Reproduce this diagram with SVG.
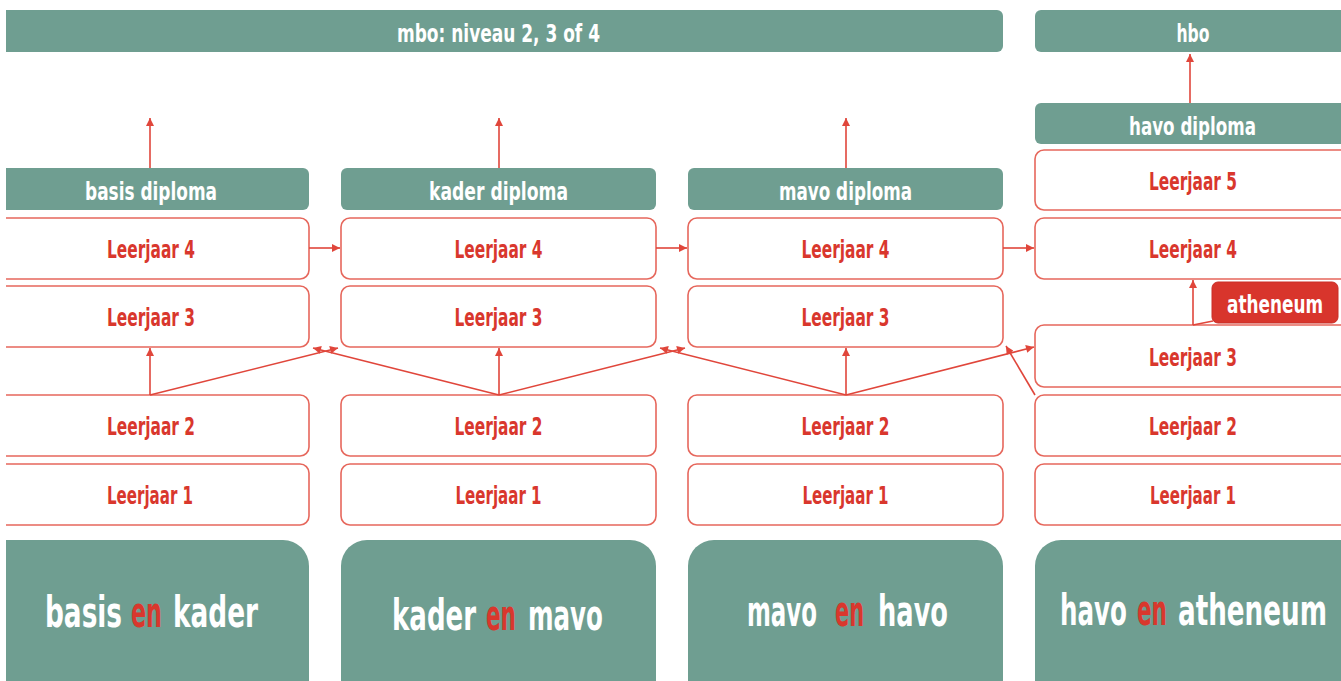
<svg xmlns="http://www.w3.org/2000/svg" width="1341" height="681" viewBox="0 0 1341 681">
<style>
text{font-family:"DejaVu Sans Condensed","Liberation Sans Narrow","DejaVu Sans",sans-serif;font-weight:bold;font-stretch:condensed;text-anchor:middle}
.bar{fill:#6f9e91}
.big{fill:#6f9e91}
.yr{fill:#ffffff;stroke:#e6675c;stroke-width:1.6}
.wt{fill:#ffffff;font-size:25px}
.rt{fill:#d9372d;font-size:24px}
.bt{fill:#ffffff;font-size:42px;text-anchor:start}
.en{fill:#d9372d;font-size:42px;text-anchor:start}
.tag{fill:#d8352c;stroke:#c92e26;stroke-width:1}
.c{stroke:#e0463b;stroke-width:1.6;fill:none}
</style>
<defs>
<marker id="ah" viewBox="0 0 10 10" refX="10" refY="5" markerWidth="10" markerHeight="8" markerUnits="userSpaceOnUse" orient="auto">
<path d="M0,0 L10,5 L0,10 z" fill="#e0463b"/>
</marker>
<clipPath id="clip"><rect x="6" y="0" width="1335" height="681"/></clipPath>
</defs>
<rect x="0" y="0" width="1341" height="681" fill="#ffffff"/>
<g clip-path="url(#clip)">
<g id="mbo"><rect class="bar" x="-10" y="10" width="1013" height="42" rx="6"/><text class="wt" x="498.5" y="42" font-size="24" textLength="203" lengthAdjust="spacingAndGlyphs">mbo: niveau 2, 3 of 4</text></g>
<g id="hbo"><rect class="bar" x="1035" y="10" width="330" height="42" rx="6"/><text class="wt" x="1193" y="42" textLength="33" lengthAdjust="spacingAndGlyphs">hbo</text></g>

<g id="basis-diploma"><rect class="bar" x="-14" y="168" width="323" height="42" rx="6"/><text class="wt" x="151" y="200" font-size="26" textLength="132" lengthAdjust="spacingAndGlyphs">basis diploma</text></g>
<g id="kader-diploma"><rect class="bar" x="341" y="168" width="315" height="42" rx="6"/><text class="wt" x="498.5" y="200" font-size="26" textLength="139" lengthAdjust="spacingAndGlyphs">kader diploma</text></g>
<g id="mavo-diploma"><rect class="bar" x="688" y="168" width="315" height="42" rx="6"/><text class="wt" x="845.5" y="200" font-size="26" textLength="133" lengthAdjust="spacingAndGlyphs">mavo diploma</text></g>
<g id="havo-diploma"><rect class="bar" x="1035" y="103" width="330" height="41" rx="6"/><text class="wt" x="1192.5" y="135" font-size="26" textLength="127" lengthAdjust="spacingAndGlyphs">havo diploma</text></g>

<g id="basis-l4"><rect class="yr" x="-14" y="218" width="323" height="61" rx="9"/><text class="rt" x="151" y="258" textLength="88" lengthAdjust="spacingAndGlyphs">Leerjaar 4</text></g>
<g id="basis-l3"><rect class="yr" x="-14" y="286" width="323" height="61" rx="9"/><text class="rt" x="151" y="326" textLength="88" lengthAdjust="spacingAndGlyphs">Leerjaar 3</text></g>
<g id="basis-l2"><rect class="yr" x="-14" y="395" width="323" height="61" rx="9"/><text class="rt" x="151" y="435" textLength="88" lengthAdjust="spacingAndGlyphs">Leerjaar 2</text></g>
<g id="basis-l1"><rect class="yr" x="-14" y="464" width="323" height="61" rx="9"/><text class="rt" x="150" y="504" textLength="86" lengthAdjust="spacingAndGlyphs">Leerjaar 1</text></g>

<g id="kader-l4"><rect class="yr" x="341" y="218" width="315" height="61" rx="9"/><text class="rt" x="498.5" y="258" textLength="88" lengthAdjust="spacingAndGlyphs">Leerjaar 4</text></g>
<g id="kader-l3"><rect class="yr" x="341" y="286" width="315" height="61" rx="9"/><text class="rt" x="498.5" y="326" textLength="88" lengthAdjust="spacingAndGlyphs">Leerjaar 3</text></g>
<g id="kader-l2"><rect class="yr" x="341" y="395" width="315" height="61" rx="9"/><text class="rt" x="498.5" y="435" textLength="88" lengthAdjust="spacingAndGlyphs">Leerjaar 2</text></g>
<g id="kader-l1"><rect class="yr" x="341" y="464" width="315" height="61" rx="9"/><text class="rt" x="498.5" y="504" textLength="86" lengthAdjust="spacingAndGlyphs">Leerjaar 1</text></g>

<g id="mavo-l4"><rect class="yr" x="688" y="218" width="315" height="61" rx="9"/><text class="rt" x="845.5" y="258" textLength="88" lengthAdjust="spacingAndGlyphs">Leerjaar 4</text></g>
<g id="mavo-l3"><rect class="yr" x="688" y="286" width="315" height="61" rx="9"/><text class="rt" x="845.5" y="326" textLength="88" lengthAdjust="spacingAndGlyphs">Leerjaar 3</text></g>
<g id="mavo-l2"><rect class="yr" x="688" y="395" width="315" height="61" rx="9"/><text class="rt" x="845.5" y="435" textLength="88" lengthAdjust="spacingAndGlyphs">Leerjaar 2</text></g>
<g id="mavo-l1"><rect class="yr" x="688" y="464" width="315" height="61" rx="9"/><text class="rt" x="845.5" y="504" textLength="86" lengthAdjust="spacingAndGlyphs">Leerjaar 1</text></g>

<g id="havo-l5"><rect class="yr" x="1035" y="150" width="330" height="60" rx="9"/><text class="rt" x="1193" y="190" textLength="88" lengthAdjust="spacingAndGlyphs">Leerjaar 5</text></g>
<g id="havo-l4"><rect class="yr" x="1035" y="218" width="330" height="61" rx="9"/><text class="rt" x="1193" y="258" textLength="88" lengthAdjust="spacingAndGlyphs">Leerjaar 4</text></g>
<g id="havo-l3"><rect class="yr" x="1035" y="325" width="330" height="62" rx="9"/><text class="rt" x="1193" y="366" textLength="88" lengthAdjust="spacingAndGlyphs">Leerjaar 3</text></g>
<g id="havo-l2"><rect class="yr" x="1035" y="395" width="330" height="61" rx="9"/><text class="rt" x="1193" y="435" textLength="88" lengthAdjust="spacingAndGlyphs">Leerjaar 2</text></g>
<g id="havo-l1"><rect class="yr" x="1035" y="464" width="330" height="61" rx="9"/><text class="rt" x="1193" y="504" textLength="86" lengthAdjust="spacingAndGlyphs">Leerjaar 1</text></g>

<g id="atheneum"><rect class="tag" x="1212" y="282" width="126" height="41" rx="6"/><text class="wt" transform="translate(1275,313) scale(0.81,1)" x="0" y="0" font-size="23" textLength="118.5" lengthAdjust="spacingAndGlyphs">atheneum</text></g>

<g id="basis-en-kader"><rect class="big" x="-30" y="540" width="339" height="180" rx="26"/>
<text class="bt" transform="translate(45,627) scale(0.697,1)" textLength="110.5" lengthAdjust="spacingAndGlyphs">basis</text>
<text class="en" transform="translate(131,627) scale(0.59,1)" textLength="52.5" lengthAdjust="spacingAndGlyphs">en</text>
<text class="bt" transform="translate(173,627) scale(0.697,1)" textLength="122" lengthAdjust="spacingAndGlyphs">kader</text></g>
<g id="kader-en-mavo"><rect class="big" x="341" y="540" width="315" height="180" rx="26"/>
<text class="bt" transform="translate(392,630) scale(0.689,1)" textLength="122" lengthAdjust="spacingAndGlyphs">kader</text>
<text class="en" transform="translate(486,630) scale(0.571,1)" textLength="52.5" lengthAdjust="spacingAndGlyphs">en</text>
<text class="bt" transform="translate(528,630) scale(0.649,1)" textLength="115.5" lengthAdjust="spacingAndGlyphs">mavo</text></g>
<g id="mavo-en-havo"><rect class="big" x="688" y="540" width="315" height="180" rx="26"/>
<text class="bt" transform="translate(747,626) scale(0.606,1)" textLength="115.5" lengthAdjust="spacingAndGlyphs">mavo</text>
<text class="en" transform="translate(835,626) scale(0.552,1)" textLength="52.5" lengthAdjust="spacingAndGlyphs">en</text>
<text class="bt" transform="translate(878,626) scale(0.68,1)" textLength="103" lengthAdjust="spacingAndGlyphs">havo</text></g>
<g id="havo-en-atheneum"><rect class="big" x="1035" y="540" width="340" height="180" rx="26"/>
<text class="bt" transform="translate(1060,625) scale(0.65,1)" textLength="103" lengthAdjust="spacingAndGlyphs">havo</text>
<text class="en" transform="translate(1137,625) scale(0.571,1)" textLength="52.5" lengthAdjust="spacingAndGlyphs">en</text>
<text class="bt" transform="translate(1178,625) scale(0.693,1)" textLength="215" lengthAdjust="spacingAndGlyphs">atheneum</text></g>

<g id="connectors">
<line class="c" x1="150" y1="168" x2="150" y2="118" marker-end="url(#ah)"/>
<line class="c" x1="499" y1="168" x2="499" y2="118" marker-end="url(#ah)"/>
<line class="c" x1="846" y1="168" x2="846" y2="118" marker-end="url(#ah)"/>
<line class="c" x1="1190" y1="103" x2="1190" y2="54" marker-end="url(#ah)"/>
<line class="c" x1="309" y1="248" x2="340" y2="248" marker-end="url(#ah)"/>
<line class="c" x1="656" y1="248" x2="687" y2="248" marker-end="url(#ah)"/>
<line class="c" x1="1003" y1="248" x2="1034" y2="248" marker-end="url(#ah)"/>
<line class="c" x1="150" y1="395" x2="150" y2="348" marker-end="url(#ah)"/>
<line class="c" x1="499" y1="395" x2="499" y2="348" marker-end="url(#ah)"/>
<line class="c" x1="846" y1="395" x2="846" y2="348" marker-end="url(#ah)"/>
<line class="c" x1="150" y1="395" x2="338" y2="348" marker-end="url(#ah)"/>
<line class="c" x1="499" y1="395" x2="313" y2="348" marker-end="url(#ah)"/>
<line class="c" x1="499" y1="395" x2="685" y2="348" marker-end="url(#ah)"/>
<line class="c" x1="846" y1="395" x2="660" y2="348" marker-end="url(#ah)"/>
<line class="c" x1="846" y1="395" x2="1034" y2="347" marker-end="url(#ah)"/>
<line class="c" x1="1035" y1="395" x2="1006" y2="346" marker-end="url(#ah)"/>
<line class="c" x1="1193" y1="325" x2="1193" y2="280" marker-end="url(#ah)"/>
<line class="c" x1="1193" y1="325" x2="1213" y2="321"/>
</g>
</g>
</svg>
